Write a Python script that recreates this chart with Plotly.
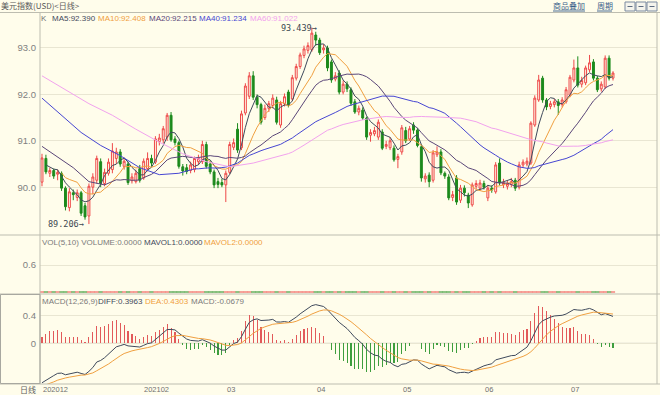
import plotly.graph_objects as go
import pandas as pd

W, H = 660, 395
BG = "#FFFDEB"
RED = "#EE4848"
GREEN = "#1C8A1C"
HIST_RED = "#E25A5A"
HIST_GREEN = "#3E9E3E"
C_MA5 = "#3F4A5C"
C_MA10 = "#F0A040"
C_MA20 = "#5A4678"
C_MA40 = "#4646D2"
C_MA60 = "#F2A2EE"
FRAME = "#BDBDB0"
GRID = "#E9E6D2"

# ---------------- data ----------------
opens = [90.11, 90.62, 90.30, 90.36, 90.28, 90.30, 89.98, 89.56, 89.88, 89.78,
         89.88, 89.60, 89.38, 90.00, 90.15, 90.55, 90.08, 90.30, 90.38, 90.62,
         90.76, 90.45, 90.50, 90.14, 90.12, 90.40, 90.20, 90.40, 90.62, 90.54,
         90.98, 91.02, 91.08, 91.55, 91.04, 90.96, 90.44, 90.42, 90.36, 90.38,
         90.55, 90.55, 90.92, 90.50, 90.33, 90.12, 90.10, 90.05, 90.32, 90.86,
         91.25, 90.85, 91.60, 91.96, 92.40, 91.94, 91.78, 91.50, 91.70, 91.76,
         91.88, 91.34, 91.80, 92.05, 91.90, 92.35, 92.60, 92.84, 92.95, 92.96,
         93.28, 93.17, 92.96, 93.00, 92.70, 92.33, 92.46, 92.05, 92.22, 92.10,
         91.84, 91.62, 91.66, 91.49, 91.12, 91.15, 91.08, 91.19, 90.88, 90.85,
         90.84, 90.60, 90.76, 91.22, 91.04, 91.34, 91.23, 90.87, 90.18, 90.26,
         90.15, 90.70, 90.76, 90.30, 90.22, 89.78, 90.20, 89.72, 89.98, 89.83,
         89.62, 90.02, 89.98, 90.08, 89.77, 89.98, 89.90, 90.52, 90.05, 90.02,
         90.06, 90.15, 90.00, 90.48, 90.50, 90.52, 91.34, 91.88, 92.35, 91.88,
         91.74, 91.78, 91.84, 91.78, 91.84, 91.98, 92.31, 92.57, 92.22, 92.25,
         92.53, 92.70, 92.35, 92.12, 92.16, 92.78, 92.35]
highs = [90.72, 90.70, 90.42, 90.40, 90.38, 90.34, 90.02, 89.98, 89.95, 89.95,
         89.92, 89.66, 90.08, 90.30, 90.68, 90.62, 90.40, 90.62, 90.95, 90.85,
         90.82, 90.64, 90.55, 90.30, 90.38, 90.48, 90.62, 90.75, 90.70, 91.10,
         91.15, 91.32, 91.60, 91.62, 91.10, 91.00, 90.50, 90.50, 90.55, 90.66,
         90.70, 91.00, 90.98, 90.56, 90.38, 90.20, 90.18, 90.36, 90.98, 91.05,
         91.38, 91.65, 92.24, 92.48, 92.50, 92.00, 91.82, 91.78, 91.86, 92.00,
         91.95, 91.86, 92.02, 92.10, 92.42, 92.66, 92.90, 93.05, 93.12, 93.439,
         93.35, 93.22, 93.08, 93.05, 92.75, 92.48, 92.52, 92.30, 92.28, 92.15,
         91.90, 91.76, 91.72, 91.52, 91.25, 91.30, 91.46, 91.25, 91.00, 91.08,
         90.90, 90.72, 91.34, 91.30, 91.32, 91.40, 91.28, 90.92, 90.30, 90.32,
         90.80, 90.88, 90.82, 90.34, 90.28, 89.92, 90.26, 90.05, 90.04, 89.88,
         90.10, 90.15, 90.16, 90.14, 90.05, 90.04, 90.54, 90.62, 90.18, 90.14,
         90.20, 90.20, 90.55, 90.60, 90.64, 91.42, 91.98, 92.42, 92.40, 91.92,
         91.86, 91.90, 91.90, 91.94, 92.16, 92.42, 92.75, 92.82, 92.38, 92.62,
         92.85, 92.76, 92.40, 92.28, 92.84, 92.84, 92.50]
lows = [90.02, 90.28, 90.22, 90.18, 90.15, 89.92, 89.50, 89.48, 89.72, 89.70,
        89.38, 89.30, 89.206, 89.85, 90.08, 90.00, 90.02, 90.25, 90.30, 90.50,
        90.44, 90.38, 90.05, 90.08, 90.08, 90.10, 90.16, 90.34, 90.45, 90.50,
        90.90, 90.95, 91.00, 90.98, 90.90, 90.40, 90.25, 90.28, 90.30, 90.32,
        90.48, 90.50, 90.40, 90.28, 89.98, 89.98, 90.00, 89.68, 90.28, 90.80,
        90.74, 90.80, 91.55, 91.90, 91.88, 91.70, 91.35, 91.45, 91.62, 91.70,
        91.35, 91.28, 91.74, 91.72, 91.86, 92.30, 92.55, 92.78, 92.88, 92.92,
        93.05, 92.85, 92.88, 92.50, 92.25, 92.28, 92.00, 92.00, 92.05, 91.75,
        91.58, 91.55, 91.45, 91.02, 90.98, 91.10, 91.02, 90.80, 90.82, 90.80,
        90.55, 90.41, 90.70, 90.95, 91.00, 91.15, 90.86, 90.12, 90.10, 90.00,
        90.10, 90.65, 90.26, 90.18, 89.72, 89.70, 89.62, 89.66, 89.80, 89.55,
        89.58, 89.96, 89.92, 89.95, 89.70, 89.88, 89.86, 90.04, 89.98, 89.95,
        90.00, 89.92, 89.95, 90.42, 90.45, 90.48, 91.30, 91.84, 91.82, 91.66,
        91.68, 91.72, 91.56, 91.72, 91.80, 91.94, 92.26, 92.15, 92.15, 92.20,
        92.48, 92.30, 92.05, 92.06, 92.12, 92.30, 92.30]
closes = [90.63, 90.33, 90.36, 90.24, 90.32, 89.98, 89.58, 89.90, 89.84, 89.88,
          89.44, 89.36, 90.02, 90.22, 90.62, 90.08, 90.32, 90.54, 90.78, 90.76,
          90.50, 90.56, 90.10, 90.22, 90.30, 90.15, 90.56, 90.62, 90.52, 91.04,
          91.06, 91.26, 91.55, 91.02, 90.96, 90.45, 90.35, 90.34, 90.48, 90.62,
          90.62, 90.92, 90.45, 90.33, 90.05, 90.06, 90.05, 90.30, 90.92, 90.96,
          90.80, 91.58, 92.18, 92.40, 91.94, 91.78, 91.40, 91.70, 91.80, 91.92,
          91.40, 91.80, 91.95, 91.78, 92.36, 92.60, 92.85, 92.98, 93.05, 93.32,
          93.17, 92.90, 93.00, 92.57, 92.31, 92.40, 92.05, 92.22, 92.12, 91.81,
          91.62, 91.70, 91.49, 91.08, 91.18, 91.22, 91.40, 90.84, 90.92, 91.00,
          90.59, 90.66, 91.28, 91.00, 91.26, 91.23, 90.90, 90.20, 90.24, 90.12,
          90.74, 90.76, 90.31, 90.24, 89.77, 89.84, 89.68, 89.98, 89.88, 89.66,
          90.05, 90.08, 90.09, 90.00, 89.98, 89.94, 90.48, 90.09, 90.10, 90.08,
          90.12, 89.98, 90.48, 90.54, 90.56, 91.38, 91.92, 92.31, 91.88, 91.73,
          91.80, 91.84, 91.76, 91.88, 92.10, 92.37, 92.57, 92.20, 92.30, 92.57,
          92.68, 92.35, 92.10, 92.22, 92.78, 92.35, 92.46]
volumes = [0.0] * 147   # VOLUME:0.0000 for every day

# early parts of the long moving averages (history before the first candle)
ma20_head_idx = [0, 4, 8, 12, 16]
ma20_head = [90.88, 90.65, 90.42, 90.12, 90.05]
ma40_head_idx = [0, 5, 10, 15, 20, 25, 30, 35]
ma40_head = [91.92, 91.55, 91.18, 90.90, 90.68, 90.42, 90.27, 90.30]
ma60_head_idx = [0, 6, 12, 18, 24, 30, 36, 42, 48, 54]
ma60_head = [92.40, 92.10, 91.80, 91.55, 91.25, 90.97, 90.72, 90.55, 90.44, 90.52]

# MACD state before the first candle
macd_seed_ema12 = 90.33
macd_seed_ema26 = 90.98
macd_seed_dea = -0.64

month_idx = [0, 29, 48, 71, 93, 114, 136]
month_text = ["202012", "202102", "03", "04", "05", "06", "07"]

price_ticks = [90, 91, 92, 93]
price_ticktext = ["90.0", "91.0", "92.0", "93.0"]

# ---------------- derived ----------------
N = len(closes)
idx = list(range(N))
cs = pd.Series(closes, dtype=float)
ma5 = cs.rolling(5, min_periods=2).mean()
ma10 = cs.rolling(10, min_periods=6).mean()


def joined(head_idx, head_vals, win):
    tail = cs.rolling(win).mean()
    xs = list(head_idx) + list(range(win - 1, N))
    ys = list(head_vals) + list(tail.iloc[win - 1:])
    return xs, ys


ma20_x, ma20_y = joined(ma20_head_idx, ma20_head, 20)
ma40_x, ma40_y = joined(ma40_head_idx, ma40_head, 40)
ma60_x, ma60_y = joined(ma60_head_idx, ma60_head, 60)

e12, e26, dea = macd_seed_ema12, macd_seed_ema26, macd_seed_dea
diff_l, dea_l, hist = [], [], []
for v in closes:
    e12 = (2 * v + 11 * e12) / 13
    e26 = (2 * v + 25 * e26) / 27
    d = e12 - e26
    dea = (2 * d + 8 * dea) / 10
    diff_l.append(d)
    dea_l.append(dea)
    hist.append(2 * (d - dea))

up = [c >= o for o, c in zip(opens, closes)]

# ---------------- figure ----------------
fig = go.Figure()

fig.add_trace(go.Candlestick(
    x=idx, open=opens, high=highs, low=lows, close=closes,
    increasing=dict(line=dict(color=RED, width=1), fillcolor=BG),
    decreasing=dict(line=dict(color=GREEN, width=1), fillcolor=GREEN),
    whiskerwidth=0, hoverinfo="skip", xaxis="x", yaxis="y"))

for xs, ys, col in [(idx, ma5, C_MA5), (idx, ma10, C_MA10), (ma20_x, ma20_y, C_MA20),
                    (ma40_x, ma40_y, C_MA40), (ma60_x, ma60_y, C_MA60)]:
    fig.add_trace(go.Scatter(x=list(xs), y=list(ys), mode="lines",
                             line=dict(color=col, width=1), hoverinfo="skip",
                             xaxis="x", yaxis="y"))

fig.add_trace(go.Scatter(
    x=idx, y=volumes, mode="markers",
    marker=dict(symbol="line-ew", size=3,
                line=dict(width=1, color=[RED if u else GREEN for u in up])),
    hoverinfo="skip", xaxis="x2", yaxis="y2"))

fig.add_trace(go.Bar(
    x=idx, y=hist, width=0.28,
    marker=dict(color=[HIST_RED if h >= 0 else HIST_GREEN for h in hist], line=dict(width=0)),
    hoverinfo="skip", xaxis="x3", yaxis="y3"))
fig.add_trace(go.Scatter(x=idx, y=diff_l, mode="lines", line=dict(color=C_MA5, width=1),
                         hoverinfo="skip", xaxis="x3", yaxis="y3"))
fig.add_trace(go.Scatter(x=idx, y=dea_l, mode="lines", line=dict(color=C_MA10, width=1),
                         hoverinfo="skip", xaxis="x3", yaxis="y3"))


def py(p):
    return 1 - p / H


def pxx(p):
    return p / W


XR = [-0.51, 157.25]
xdom = [pxx(40), pxx(657)]
xcommon = dict(domain=xdom, range=XR, showticklabels=False, showgrid=False,
               zeroline=False, showline=False, ticks="", fixedrange=True)
tickfont = dict(family="Liberation Sans", size=9.5, color="#808080")
ycommon = dict(showgrid=True, gridcolor=GRID, gridwidth=1, zeroline=False,
               showline=False, ticks="", tickfont=tickfont, fixedrange=True,
               ticklabelstandoff=3)

fig.update_layout(
    width=W, height=H, autosize=False,
    margin=dict(l=0, r=0, t=0, b=0),
    paper_bgcolor=BG, plot_bgcolor=BG,
    showlegend=False, bargap=0,
    xaxis=dict(**xcommon, anchor="y", rangeslider=dict(visible=False)),
    xaxis2=dict(**xcommon, anchor="y2", matches="x"),
    xaxis3=dict(**xcommon, anchor="y3", matches="x"),
    yaxis=dict(**ycommon, domain=[py(235), py(13)], range=[88.970, 93.754],
               tickvals=price_ticks, ticktext=price_ticktext, anchor="x"),
    yaxis2=dict(**ycommon, domain=[py(293), py(235)], range=[-0.022, 1.267],
                tickvals=[0.6], ticktext=["0.6"], anchor="x2"),
    yaxis3=dict(**ycommon, domain=[py(384), py(294)], range=[-0.596, 0.722],
                tickvals=[0, 0.4], ticktext=["0", "0.4"], anchor="x3"),
)

shapes = []


def line_px(x0, y0, x1, y1, color=FRAME, width=1):
    shapes.append(dict(type="line", xref="paper", yref="paper",
                       x0=pxx(x0), y0=py(y0), x1=pxx(x1), y1=py(y1),
                       line=dict(color=color, width=width), layer="above"))


line_px(0, 12.5, 660, 12.5)
line_px(0, 235, 660, 235)
line_px(0, 294, 660, 294)
line_px(0, 384, 660, 384)
line_px(40, 12.5, 40, 384)
line_px(657, 12.5, 657, 384)
# left box of the MACD pane
shapes.append(dict(type="rect", xref="paper", yref="paper",
                   x0=pxx(0.5), y0=py(383.5), x1=pxx(40), y1=py(294.5),
                   line=dict(color="#A8A8A0", width=1)))
# MACD zero line
shapes.append(dict(type="line", xref="paper", yref="y3", x0=xdom[0], x1=xdom[1],
                   y0=0, y1=0, line=dict(color="#C8C8BE", width=1), layer="below"))
# top-right links underline and icon boxes
line_px(553, 11, 585, 11, color="#4A6C94")
line_px(597, 11, 612, 11, color="#4A6C94")
for bx in (625, 636, 647):
    shapes.append(dict(type="rect", xref="paper", yref="paper",
                       x0=pxx(bx), y0=py(11), x1=pxx(bx + 10), y1=py(2),
                       line=dict(color="#7A8AA0", width=1), fillcolor="#F4F4EC"))
    line_px(bx + 2.5, 6.5, bx + 7.5, 6.5, color="#5A6A80")
fig.update_layout(shapes=shapes)

anns = []


def text_px(t, x, y, color, size=8, family="Liberation Sans", xanchor="left"):
    anns.append(dict(text=t, x=pxx(x), y=py(y), xref="paper", yref="paper",
                     xanchor=xanchor, yanchor="middle", showarrow=False,
                     font=dict(family=family, size=size, color=color), borderpad=0))


CJK = "Noto Sans CJK SC"
text_px("美元指数(USD)<日线>", 0, 6, "#5A5A5A", size=8, family=CJK)
text_px("商品叠加", 569, 5.5, "#3A5F8A", size=8, family=CJK, xanchor="center")
text_px("周期", 604.5, 5.5, "#3A5F8A", size=8, family=CJK, xanchor="center")

text_px("K", 40, 18, "#707070")
for t, x, col in [("MA5:92.390", 51, C_MA5), ("MA10:92.408", 97, C_MA10),
                  ("MA20:92.215", 148, C_MA20), ("MA40:91.234", 198, C_MA40),
                  ("MA60:91.022", 249, C_MA60)]:
    text_px(t, x, 18, col)
for t, x, col in [("VOL(5,10) VOLUME:0.0000", 41, "#7A7A7A"), ("MAVOL1:0.0000", 143, C_MA5),
                  ("MAVOL2:0.0000", 203, C_MA10)]:
    text_px(t, x, 242, col)
for t, x, col in [("MACD(12,26,9)", 41, "#7A7A7A"), ("DIFF:0.3963", 97, C_MA5),
                  ("DEA:0.4303", 144, C_MA10), ("MACD:-0.0679", 190, "#7A7A7A")]:
    text_px(t, x, 301, col)

text_px("日线", 37, 389, "#606060", size=8, family=CJK, xanchor="right")
for i, (mi, mt) in enumerate(zip(month_idx, month_text)):
    anns.append(dict(text=mt, x=mi, y=py(389.5), xref="x3", yref="paper",
                     xanchor="left" if i == 0 else "center", yanchor="middle",
                     xshift=-1 if i == 0 else 1, showarrow=False,
                     font=dict(family="Liberation Sans", size=7.5, color="#707070")))

# extreme labels
hi_i = max(idx, key=lambda k: highs[k])
lo_i = min(idx, key=lambda k: lows[k])
anns.append(dict(text=f"{highs[hi_i]:.3f}→", x=hi_i, y=highs[hi_i], xref="x", yref="y",
                 xanchor="right", yanchor="middle", xshift=7, showarrow=False,
                 font=dict(family="DejaVu Sans Mono", size=8.5, color="#404850")))
anns.append(dict(text=f"{lows[lo_i]:.3f}→", x=lo_i, y=lows[lo_i], xref="x", yref="y",
                 xanchor="right", yanchor="middle", xshift=-3, showarrow=False,
                 font=dict(family="DejaVu Sans Mono", size=8.5, color="#404850")))
fig.update_layout(annotations=anns)

fig.write_html("out.html",
               config={"displayModeBar": False, "staticPlot": True},
               post_script="document.body.style.margin='0';document.body.style.overflow='hidden';")
